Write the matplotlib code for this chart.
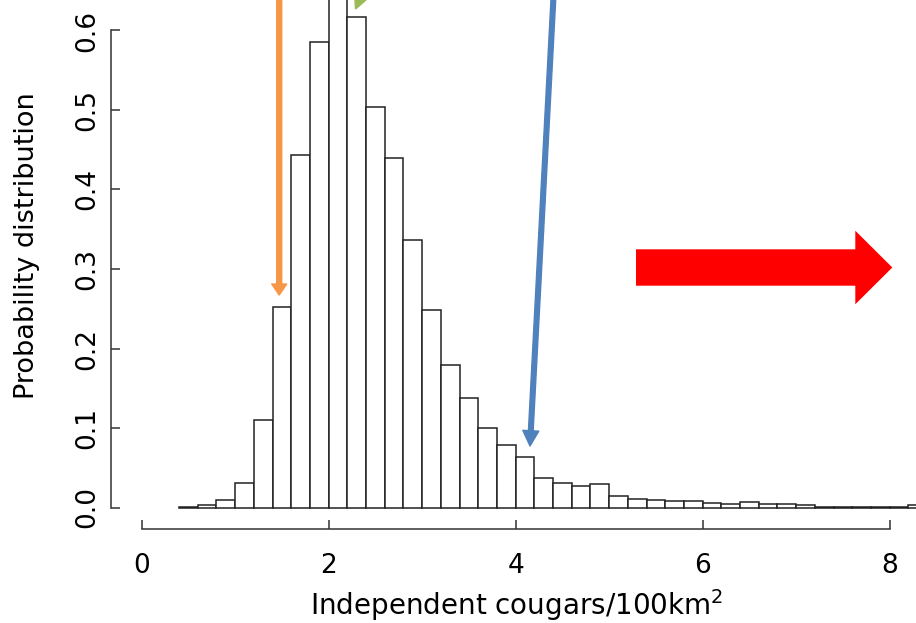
import matplotlib
matplotlib.use("Agg")
import matplotlib.pyplot as plt
from matplotlib.patches import FancyArrowPatch, FancyArrow, Polygon

# ---------------- data ----------------
bin_width = 0.2
bin_left = [round(0.4 + 0.2 * i, 1) for i in range(40)]  # 0.4 ... 8.2
density = [0.001, 0.003, 0.010, 0.031, 0.110, 0.252, 0.444, 0.586, 0.665, 0.617,
           0.504, 0.439, 0.336, 0.248, 0.179, 0.138, 0.100, 0.078, 0.064, 0.037,
           0.031, 0.027, 0.029, 0.0145, 0.011, 0.0093, 0.0078, 0.0078, 0.0062, 0.0046,
           0.0065, 0.005, 0.005, 0.003, 0.001, 0.001, 0.001, 0.001, 0.001, 0.003]
xticks = [0, 2, 4, 6, 8]
xtick_labels = ["0", "2", "4", "6", "8"]
yticks = [0.0, 0.1, 0.2, 0.3, 0.4, 0.5, 0.6]
ytick_labels = ["0.0", "0.1", "0.2", "0.3", "0.4", "0.5", "0.6"]
xlabel = "Independent cougars/100km$^2$"
ylabel = "Probability distribution"

# ---------------- layout helpers (pixel <-> data) ----------------
W, H = 916, 623
X0, SX = 141.6, 93.5     # pixel of x=0, pixels per unit
Y0, SY = 507.5, 795.0    # pixel of y=0, pixels per unit


def dx(px):
    return (px - X0) / SX


def dy(py):
    return (Y0 - py) / SY


plt.rcParams["font.family"] = ["DejaVu Sans"]
plt.rcParams["mathtext.fontset"] = "dejavusans"

fig = plt.figure(figsize=(W / 100, H / 100), dpi=100)
ax = fig.add_axes([0, 0, 1, 1])
ax.patch.set_visible(False)
ax.set_xlim(dx(0), dx(W))
ax.set_ylim(dy(H), dy(0))

# histogram bars
ax.bar(bin_left, density, width=bin_width, align="edge", color="white",
       edgecolor="#222222", linewidth=1.1, zorder=2)

# axes (R style, ticks inward, line spans first..last tick)
axis_col = "#333333"
for s in ["top", "right"]:
    ax.spines[s].set_visible(False)
ax.spines["left"].set_position(("data", dx(111)))
ax.spines["bottom"].set_position(("data", dy(529)))
ax.spines["left"].set_bounds(0, 0.6)
ax.spines["bottom"].set_bounds(0, 8)
for s in ["left", "bottom"]:
    ax.spines[s].set_color(axis_col)
    ax.spines[s].set_linewidth(1.1)

ax.set_xticks(xticks, labels=xtick_labels)
ax.set_yticks(yticks, labels=ytick_labels, rotation=90, va="center")
ax.tick_params(axis="both", direction="in", length=6.5, width=1.1, color=axis_col,
               labelsize=19, labelcolor="black")
ax.tick_params(axis="x", pad=17.5)
ax.tick_params(axis="y", pad=8)

fig.text(517 / W, 1 - 615 / H, xlabel, ha="center", va="baseline", fontsize=20)
fig.text(27 / W, 1 - 246 / H, ylabel, ha="center", va="center", rotation=90, fontsize=19.5)

# orange arrow (vertical)
ax.add_patch(FancyArrowPatch((dx(279.2), dy(-30)), (dx(279.2), dy(295)),
                             arrowstyle="simple,head_length=7.9,head_width=10.8,tail_width=3.6",
                             mutation_scale=1, color="#F79646", shrinkA=0, shrinkB=0,
                             zorder=4, clip_on=False))
# blue arrow (slanted)
ax.add_patch(FancyArrowPatch((dx(554.9), dy(-30)), (dx(530), dy(446)),
                             arrowstyle="simple,head_length=11,head_width=11.5,tail_width=3.4",
                             mutation_scale=1, color="#4F81BD", shrinkA=0, shrinkB=0,
                             zorder=4, clip_on=False))
# green arrowhead fragment at the top edge
ax.add_patch(Polygon([(dx(355), dy(0)), (dx(366), dy(0)), (dx(355.5), dy(9))],
                     closed=True, color="#9BBB59", zorder=4, clip_on=False))
# red block arrow
ax.add_patch(FancyArrow(dx(636), dy(267.5), dx(892.3) - dx(636), 0,
                        width=(285.7 - 249.3) / SY, head_width=(304.3 - 230.7) / SY,
                        head_length=(892.3 - 855.3) / SX, length_includes_head=True,
                        color="#FF0000", linewidth=0, zorder=4))

fig.savefig("out.png", dpi=100)
